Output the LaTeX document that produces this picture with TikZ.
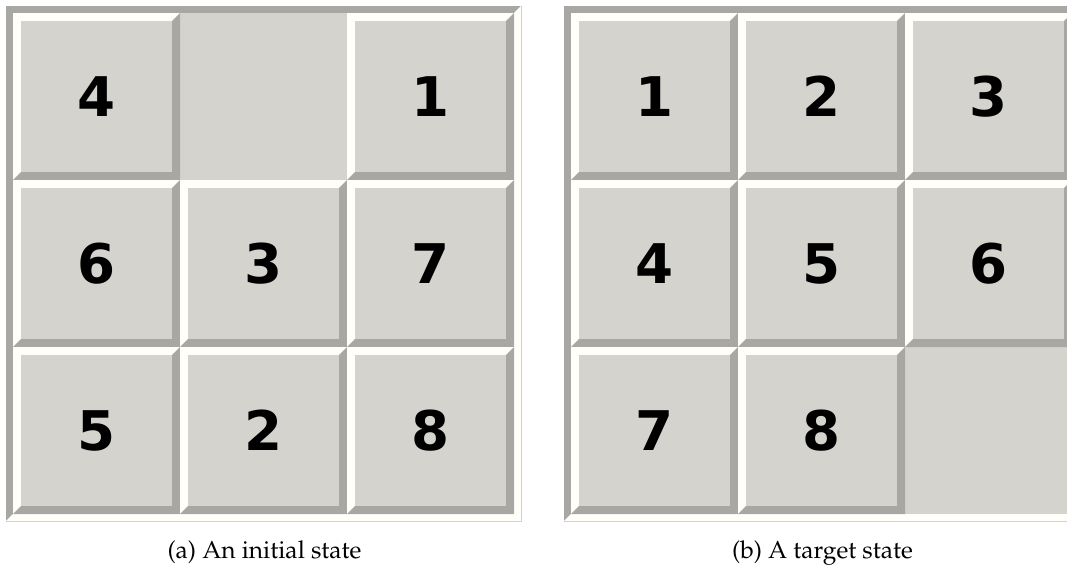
\documentclass[tikz,border=0pt]{standalone}
\usepackage{fontspec}
\usepackage{tikz}
\newfontfamily\tilefont{DejaVu Sans Bold}
\definecolor{tileface}{RGB}{213,211,206}
\definecolor{tileshade}{RGB}{168,167,163}
\definecolor{tilelight}{RGB}{255,254,248}
\definecolor{frameline}{RGB}{210,209,205}
\tikzset{
 tilenum/.style={font=\tilefont\fontsize{41}{41}\selectfont,inner sep=0pt},
 subcap/.style={font=\fontencoding{OT1}\fontfamily{ppl}\fontsize{18.4}{22}\selectfont,
  anchor=base,inner sep=0pt}
}

\begin{document}
\begin{tikzpicture}[x=.75pt,y=-.75pt]
 \useasboundingbox (0,0) rectangle (1067,564);
 \clip (0,0) rectangle (1067,564);
 % two boards of the 8-puzzle; the right one runs past the page edge
 \foreach \bx/\brd/\cap/\tiles in {
   6/a/{(a) An initial state}/{0/0/4,2/0/1,0/1/6,1/1/3,2/1/7,0/2/5,1/2/2,2/2/8},
   564/b/{(b) A target state}/{0/0/1,1/0/2,2/0/3,0/1/4,1/1/5,2/1/6,0/2/7,1/2/8}}{
  \begin{scope}[shift={(\bx,6)}]
   % sunken frame
   \fill[tileshade] (0,515)--(0,0)--(515,0)--(508,7)--(7,7)--(7,508)--cycle;
   \fill[tilelight] (0,515)--(515,515)--(515,0)--(508,7)--(508,508)--(7,508)--cycle;
   \fill[tileface] (7,7) rectangle (508,508);
   \draw[frameline,line width=.75pt] (0,515)--(515,515)--(515,0);
   % raised tiles, 167 by 167
   \foreach \c/\r/\lab in \tiles{
    \begin{scope}[shift={({7+167*\c},{7+167*\r})}]
     \fill[tilelight] (0,167)--(0,0)--(167,0)--(159,8)--(8,8)--(8,159)--cycle;
     \fill[tileshade] (0,167)--(167,167)--(167,0)--(159,8)--(159,159)--(8,159)--cycle;
     \fill[tileface] (8,8) rectangle (159,159);
     \node[tilenum] (\brd-\lab) at (83.5,83.5) {\lab};
    \end{scope}
   }
   \node[subcap] (\brd-cap) at (258.5,552) {\cap};
  \end{scope}
 }
\end{tikzpicture}
\end{document}
